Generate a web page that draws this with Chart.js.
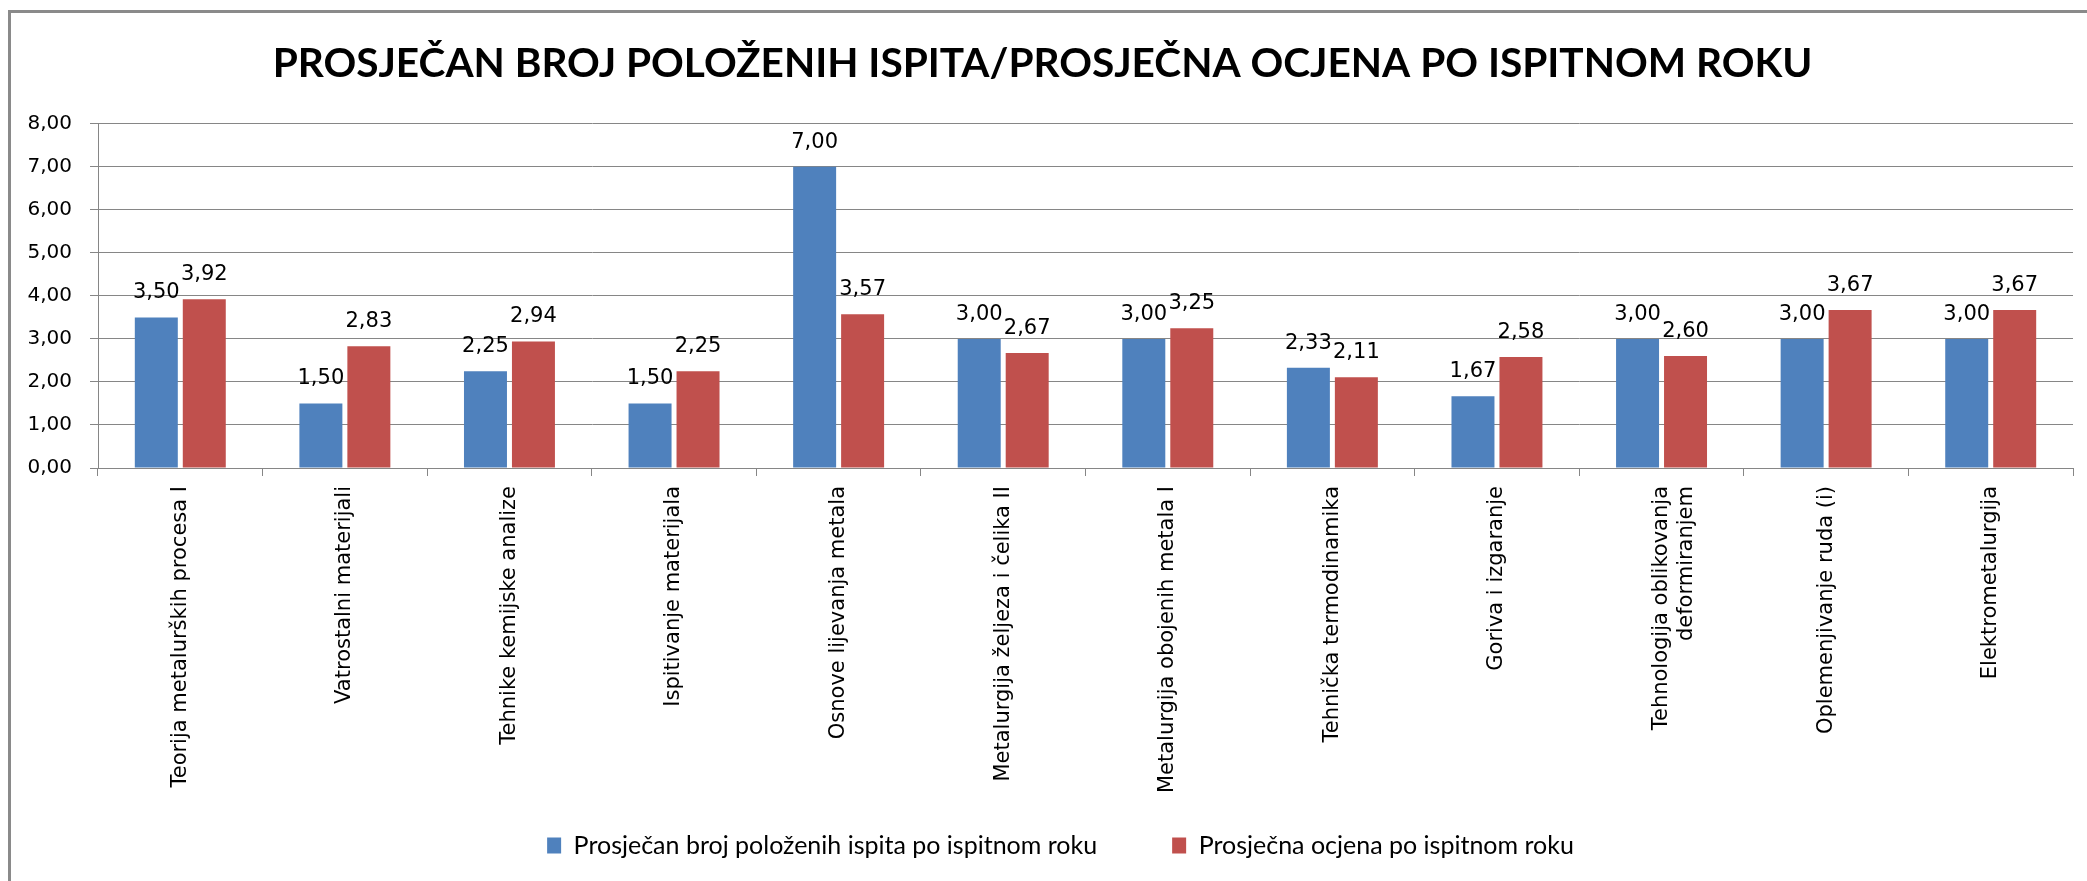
<!DOCTYPE html>
<html>
<head>
<meta charset="utf-8">
<script src="https://cdn.jsdelivr.net/npm/chart.js@4.4.1/dist/chart.umd.min.js"></script>
<style>
  html, body { margin: 0; padding: 0; background: #fff; }
  #wrap { position: relative; width: 2087px; height: 881px; overflow: hidden; }
  #c { position: absolute; left: 0; top: 0; }
  #frame { position: absolute; left: 8px; top: 10px; width: 2100px; height: 900px;
           border-left: 3px solid #8a8a8a; border-top: 3px solid #8a8a8a; pointer-events: none; }
</style>
</head>
<body>
<div id="wrap">
  <canvas id="c" width="2087" height="881"></canvas>
  <div id="frame"></div>
</div>
<script>
const chartTitle = 'PROSJEČAN BROJ POLOŽENIH ISPITA/PROSJEČNA OCJENA PO ISPITNOM ROKU';
const categories = [
  'Teorija metalurških procesa I',
  'Vatrostalni materijali',
  'Tehnike kemijske analize',
  'Ispitivanje materijala',
  'Osnove lijevanja metala',
  'Metalurgija željeza i čelika II',
  'Metalurgija obojenih metala I',
  'Tehnička termodinamika',
  'Goriva i izgaranje',
  ['Tehnologija oblikovanja', 'deformiranjem'],
  'Oplemenjivanje ruda (i)',
  'Elektrometalurgija'
];
const seriesNames = ['Prosječan broj položenih ispita po ispitnom roku', 'Prosječna ocjena po ispitnom roku'];
const passedExams = [3.50, 1.50, 2.25, 1.50, 7.00, 3.00, 3.00, 2.33, 1.67, 3.00, 3.00, 3.00];
const averageGrade = [3.92, 2.83, 2.94, 2.25, 3.57, 2.67, 3.25, 2.11, 2.58, 2.60, 3.67, 3.67];
const yMin = 0, yMax = 8, yStep = 1;

const fmt = v => Number(v).toFixed(2).replace('.', ',');

const valueLabels = {
  id: 'valueLabels',
  afterDatasetsDraw(chart) {
    const ctx = chart.ctx;
    ctx.save();
    ctx.font = '21px "DejaVu Sans"';
    ctx.fillStyle = '#000';
    ctx.textAlign = 'center';
    ctx.textBaseline = 'alphabetic';
    chart.data.datasets.forEach((ds, i) => {
      chart.getDatasetMeta(i).data.forEach((el, j) => {
        ctx.fillText(fmt(ds.data[j]), el.x, el.y - 19);
      });
    });
    ctx.restore();
  }
};

// shift legend slightly right and let the rotated x labels extend past the legend's top edge
const layoutTweaks = {
  id: 'layoutTweaks',
  afterLayout(chart) {
    if (chart.legend) { chart.legend.left += 18; chart.legend.right += 18; }
    const x = chart.scales.x;
    x.bottom = chart.height;
    x.height = x.bottom - x.top;
  }
};

new Chart(document.getElementById('c'), {
  type: 'bar',
  data: {
    labels: categories,
    datasets: [
      { label: seriesNames[0], data: passedExams, backgroundColor: '#4F81BD',
        categoryPercentage: 0.583, barPercentage: 0.896 },
      { label: seriesNames[1], data: averageGrade, backgroundColor: '#C0504D',
        categoryPercentage: 0.583, barPercentage: 0.896 }
    ]
  },
  options: {
    responsive: false,
    animation: false,
    devicePixelRatio: 1,
    layout: { padding: { left: 12, right: 14, top: 0, bottom: 13 } },
    plugins: {
      title: {
        display: true, text: chartTitle, color: '#000',
        font: { family: 'Lato', weight: 'bold', size: 40.6, lineHeight: 1.2 },
        padding: { top: 40, bottom: 35 }
      },
      legend: {
        position: 'bottom',
        labels: {
          color: '#000', font: { family: 'Lato', size: 25 },
          boxWidth: 14, boxHeight: 16, padding: 75
        }
      },
      tooltip: { enabled: false }
    },
    scales: {
      x: {
        grid: { display: true, drawOnChartArea: false, offset: true, tickLength: 8, color: '#868686' },
        border: { color: '#868686' },
        ticks: { color: '#000', font: { family: 'DejaVu Sans', size: 21 },
                 minRotation: 90, maxRotation: 90, autoSkip: false, padding: 10 },
        afterFit(s) { s.height = 290; }
      },
      y: {
        min: yMin, max: yMax,
        grid: { color: '#868686', tickLength: 8 },
        border: { color: '#868686' },
        ticks: { stepSize: yStep, color: '#000', font: { family: 'DejaVu Sans', size: 20 },
                 padding: 18, callback: v => fmt(v) },
        afterFit(s) { s.width = 86; }
      }
    }
  },
  plugins: [valueLabels, layoutTweaks]
});
</script>
</body>
</html>
